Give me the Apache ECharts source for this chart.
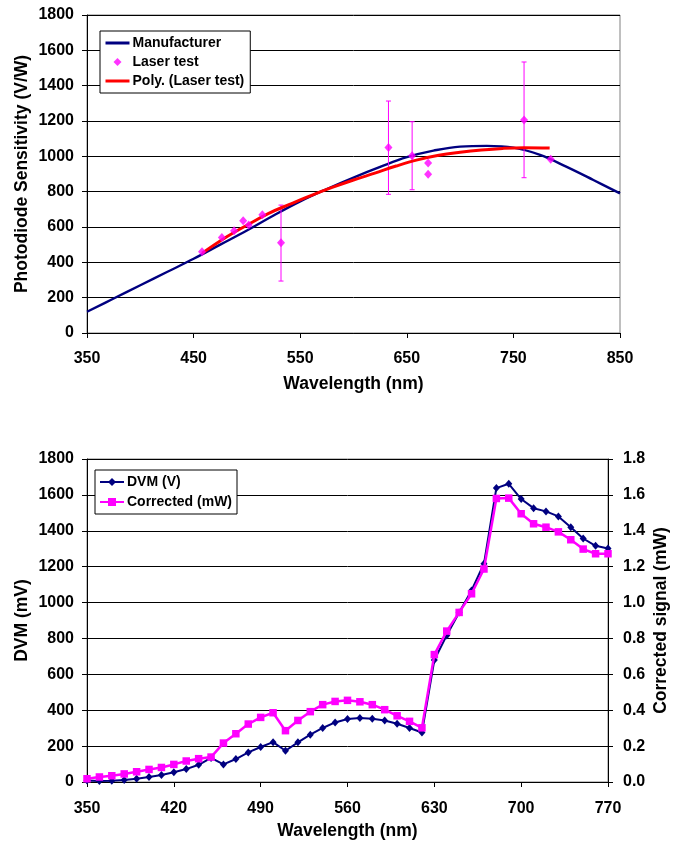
<!DOCTYPE html>
<html>
<head>
<meta charset="utf-8">
<script src="https://cdn.jsdelivr.net/npm/echarts@6/dist/echarts.min.js"></script>
<style>
html,body{margin:0;padding:0;background:#fff;}
#c{width:680px;height:842px;}
</style>
</head>
<body>
<div id="c"></div>
<script>
// ---------- Top chart data ----------
const topXTicks = [350, 450, 550, 650, 750, 850];
const mfrWl  = [350,375,400,425,450,475,500,525,550,575,600,625,650,675,700,725,750,775,800,825,850];
const mfrVal = [120,195,270,345,420,500,580,665,745,815,880,940,995,1032,1055,1059,1049,1008,940,866,790];

const laserWl  = [457.9, 476.5, 488, 496.5, 501.7, 514.5, 532, 632.8, 655, 670, 670, 760, 785];
const laserVal = [460, 541, 579, 636, 611, 670, 511, 1050, 1004, 962, 898, 1205, 983];

const errWl   = [532, 632.8, 655, 760];
const errLow  = [294, 785, 811, 879];
const errHigh = [724, 1313, 1196, 1534];

const polyWl  = [458,480,500,520,540,560,580,600,620,640,660,680,700,720,740,760,784];
const polyVal = [451,540,610,676,728,778,824,866,905,945,980,1006,1023,1036,1045,1049,1047];

// ---------- Bottom chart data ----------
const botWl = [350,360,370,380,390,400,410,420,430,440,450,460,470,480,490,500,510,520,530,540,550,
               560,570,580,590,600,610,620,630,640,650,660,670,680,690,700,710,720,730,740,750,760,770];
const dvm = [8,5,7,11,18,28,39,54,72,96,134,
             98,128,165,195,222,174,221,264,301,332,351,357,353,343,325,301,276,
             680,817,945,1067,1216,1638,1662,1577,1526,1508,1480,1420,1357,1316,1301];
const corrected = [0.018,0.028,0.035,0.045,0.057,0.070,0.081,0.098,0.117,0.130,0.139,
                   0.217,0.269,0.323,0.360,0.386,0.286,0.343,0.392,0.431,0.449,0.455,0.447,0.431,0.403,0.369,0.338,0.302,
                   0.710,0.841,0.945,1.049,1.187,1.580,1.582,1.495,1.439,1.420,1.394,1.350,1.298,1.272,1.272];

const FONT = '"Liberation Sans", Arial, Helvetica, sans-serif';
const NAVY = '#000080', MAG = '#FF00FF', RED = '#FF0000';

const zip = (a, b) => a.map((v, i) => [v, b[i]]);

const labelStyle = { color: '#000', fontWeight: 'bold', fontSize: 16, fontFamily: FONT };
const nameStyle = { color: '#000', fontWeight: 'bold', fontSize: 17.5, fontFamily: FONT };
const axLine = { show: true, lineStyle: { color: '#000', width: 1 } };
const axTick = { show: true, inside: false, length: 5, lineStyle: { color: '#000', width: 1 } };
const grid = { show: true, borderColor: '#808080', borderWidth: 1, backgroundColor: 'transparent' };
const plain = v => String(v);

const chart = echarts.init(document.getElementById('c'), null, { renderer: 'canvas' });

const legendText = { color: '#000', fontWeight: 'bold', fontSize: 14, fontFamily: FONT, padding: [0,0,0,-2] };

chart.setOption({
  animation: false,
  backgroundColor: '#fff',
  textStyle: { fontFamily: FONT },
  grid: [
    Object.assign({ left: 87, top: 15, width: 533, height: 318 }, grid),
    Object.assign({ left: 87, top: 459, width: 521, height: 323 }, grid)
  ],
  legend: [
    {
      orient: 'vertical', left: 100, top: 31,
      padding: [5, 6, 5, 4], itemGap: 5, itemWidth: 24, itemHeight: 8, symbolKeepAspect: true,
      backgroundColor: '#fff', borderColor: '#000', borderWidth: 1, borderRadius: 0,
      textStyle: legendText,
      data: [
        { name: 'Manufacturer', itemStyle: { opacity: 0 }, lineStyle: { width: 3 } },
        { name: 'Laser test', icon: 'path://M4,0 L8,4 L4,8 L0,4 Z' },
        { name: 'Poly. (Laser test)', itemStyle: { opacity: 0 }, lineStyle: { width: 3 } }
      ]
    },
    {
      orient: 'vertical', left: 95, top: 470,
      padding: [5, 5, 5, 4], itemGap: 6, itemWidth: 24, itemHeight: 10,
      backgroundColor: '#fff', borderColor: '#000', borderWidth: 1, borderRadius: 0,
      textStyle: legendText,
      data: ['DVM (V)', 'Corrected (mW)']
    }
  ],
  xAxis: [
    {
      gridIndex: 0, type: 'value', min: 350, max: 850, interval: 100,
      name: 'Wavelength (nm)', nameLocation: 'middle', nameGap: 42, nameTextStyle: nameStyle,
      nameMoveOverlap: false,
      axisLine: axLine, axisTick: axTick, splitLine: { show: false },
      axisLabel: Object.assign({ margin: 18, formatter: plain }, labelStyle)
    },
    {
      gridIndex: 1, type: 'value', min: 350, max: 770, interval: 70,
      name: 'Wavelength (nm)', nameLocation: 'middle', nameGap: 40, nameTextStyle: nameStyle,
      nameMoveOverlap: false,
      axisLine: axLine, axisTick: axTick, splitLine: { show: false },
      axisLabel: Object.assign({ margin: 19, formatter: plain }, labelStyle)
    }
  ],
  yAxis: [
    {
      gridIndex: 0, type: 'value', min: 0, max: 1800, interval: 200,
      name: 'Photodiode Sensitivity (V/W)', nameLocation: 'middle', nameGap: 56, nameRotate: 90,
      nameTextStyle: nameStyle, nameMoveOverlap: false,
      axisLine: axLine, axisTick: axTick,
      splitLine: { show: true, lineStyle: { color: '#000', width: 1 } },
      axisLabel: Object.assign({ margin: 13, formatter: plain }, labelStyle)
    },
    {
      gridIndex: 1, type: 'value', min: 0, max: 1800, interval: 200,
      name: 'DVM (mV)', nameLocation: 'middle', nameGap: 56, nameRotate: 90,
      nameTextStyle: nameStyle, nameMoveOverlap: false,
      axisLine: axLine, axisTick: axTick,
      splitLine: { show: true, lineStyle: { color: '#000', width: 1 } },
      axisLabel: Object.assign({ margin: 13, formatter: plain }, labelStyle)
    },
    {
      gridIndex: 1, type: 'value', position: 'right', min: 0, max: 1.8, interval: 0.2,
      name: 'Corrected signal (mW)', nameLocation: 'middle', nameGap: 44, nameRotate: 90,
      nameTextStyle: nameStyle, nameMoveOverlap: false,
      axisLine: axLine, axisTick: axTick, splitLine: { show: false },
      axisLabel: Object.assign({ margin: 15, formatter: v => v.toFixed(1) }, labelStyle)
    }
  ],
  series: [
    {
      name: 'Manufacturer', type: 'line', xAxisIndex: 0, yAxisIndex: 0,
      data: zip(mfrWl, mfrVal), smooth: 0.4, symbol: 'none',
      lineStyle: { color: NAVY, width: 2.4 }, itemStyle: { color: NAVY }, z: 3
    },
    {
      name: 'errbars', type: 'custom', xAxisIndex: 0, yAxisIndex: 0,
      data: errWl.map((w, i) => [w, errLow[i], errHigh[i]]),
      renderItem: function (params, api) {
        const x = api.value(0);
        const pLo = api.coord([x, api.value(1)]);
        const pHi = api.coord([x, api.value(2)]);
        const st = { stroke: MAG, lineWidth: 1 };
        const c = 2.5;
        return {
          type: 'group',
          children: [
            { type: 'line', shape: { x1: pLo[0], y1: pLo[1], x2: pHi[0], y2: pHi[1] }, style: st },
            { type: 'line', shape: { x1: pLo[0] - c, y1: pLo[1], x2: pLo[0] + c, y2: pLo[1] }, style: st },
            { type: 'line', shape: { x1: pHi[0] - c, y1: pHi[1], x2: pHi[0] + c, y2: pHi[1] }, style: st }
          ]
        };
      },
      z: 4, silent: true
    },
    {
      name: 'Laser test', type: 'scatter', xAxisIndex: 0, yAxisIndex: 0,
      data: zip(laserWl, laserVal), symbol: 'diamond', symbolSize: [8, 9],
      itemStyle: { color: MAG }, z: 6
    },
    {
      name: 'Poly. (Laser test)', type: 'line', xAxisIndex: 0, yAxisIndex: 0,
      data: zip(polyWl, polyVal), smooth: 0.4, symbol: 'none',
      lineStyle: { color: RED, width: 3 }, itemStyle: { color: RED }, z: 5
    },
    {
      name: 'DVM (V)', type: 'line', xAxisIndex: 1, yAxisIndex: 1,
      data: zip(botWl, dvm), symbol: 'diamond', symbolSize: [7, 8], showSymbol: true,
      lineStyle: { color: NAVY, width: 2 }, itemStyle: { color: NAVY }, z: 3
    },
    {
      name: 'Corrected (mW)', type: 'line', xAxisIndex: 1, yAxisIndex: 2,
      data: zip(botWl, corrected), symbol: 'rect', symbolSize: 7.5, showSymbol: true,
      lineStyle: { color: MAG, width: 2.5 }, itemStyle: { color: MAG }, z: 4
    }
  ]
});
</script>
</body>
</html>
